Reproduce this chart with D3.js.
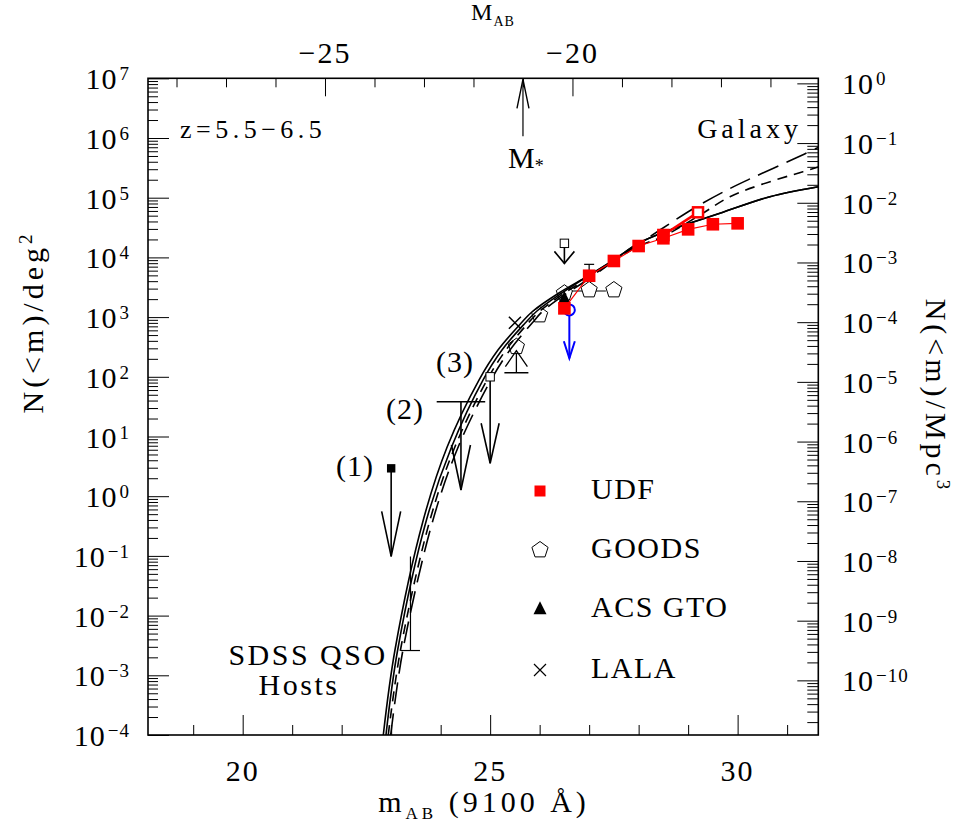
<!DOCTYPE html>
<html><head><meta charset="utf-8">
<script src="https://cdn.jsdelivr.net/npm/d3@7"></script>
<style>
body{margin:0;background:#fff;}
svg text{font-family:"Liberation Serif","Times New Roman",serif;fill:#000;}
</style></head><body>
<svg id="chart" width="956" height="835"></svg>
<script>
// ---------------- data ----------------
const bottomMajor = [20, 25, 30];
const bottomMinor = [19, 21, 22, 23, 24, 26, 27, 28, 29, 31];
const topMajor = [-25, -20];
const topMinor = [-28, -27, -26, -24, -23, -22, -21, -19, -18, -17, -16];
const leftDecades = [-4, -3, -2, -1, 0, 1, 2, 3, 4, 5, 6, 7];
const rightDecades = [-10, -9, -8, -7, -6, -5, -4, -3, -2, -1, 0];
const distModulus = 46.663;      // m - M
const volumeOffset = 6.915;      // log N/deg^2 - log N/Mpc^3
const mStar = -21.0;

// model curves: [m_AB, log10 N(<m)/deg^2]
const curveSolid1 = [[22.841,-4.0],[23.077,-2.576],[23.649,-0.399],[24.133,0.829],[24.774,1.946],[25.158,2.449],[25.622,2.896],[25.865,3.102],[26.390,3.404],[26.976,3.688],[27.501,3.957],[28.006,4.241],[28.632,4.459],[29.643,4.739],[30.653,5.017],[31.628,5.184]];
const curveSolid2 = [[22.895,-4.0],[23.131,-2.576],[23.713,-0.399],[24.222,0.829],[24.855,1.946],[25.239,2.449],[25.703,2.896],[25.946,3.102],[26.431,3.395],[26.976,3.688],[27.501,3.957],[28.006,4.241],[28.632,4.459],[29.643,4.739],[30.653,5.017],[31.628,5.184]];
const curveShortDash = [[22.941,-4.0],[23.188,-2.576],[23.784,-0.399],[24.289,0.829],[24.936,1.946],[25.320,2.449],[25.764,2.896],[26.006,3.102],[26.471,3.387],[27.016,3.672],[27.501,3.940],[28.006,4.191],[28.511,4.358],[29.239,4.710],[29.845,5.017],[30.451,5.213],[31.319,5.436],[31.628,5.514]];
const curveLongDash = [[22.990,-4.0],[23.238,-2.576],[23.845,-0.399],[24.356,0.829],[25.016,1.946],[25.400,2.449],[25.844,2.896],[26.067,3.102],[26.511,3.379],[27.037,3.663],[27.622,4.012],[28.430,4.459],[29.178,4.853],[29.845,5.154],[30.309,5.338],[31.198,5.673],[31.628,5.841]];

// UDF
const udfMag = [26.5, 27.0, 27.5, 28.0, 28.5, 29.0, 29.5, 30.0];
const udfN = [1400, 4930, 8710, 15500, 20900, 29500, 35900, 37200];
const udf2Mag = [28.5, 29.2];
const udf2N = [23700, 56900];
const udfErrMag = [27.0];
const udfErrHigh = [7650];
// GOODS
const goodsMag = [25.53, 26.0, 26.5, 27.0, 27.5];
const goodsN = [319, 1084, 2512, 2844, 2844];
const goodsLowerMag = [25.53];
const goodsLowerN = [117];
// ACS GTO
const acsMag = [26.5];
const acsN = [2065];
// LALA
const lalaMag = [25.5];
const lalaN = [805];
// blue upper limit
const blueMag = [26.6];
const blueN = [1318];
const blueTipN = [204];
// upper limits (1), (2), (3) and the faint one at 26.5
const limitMag = [23.0, 24.41, 25.0, 26.5];
const limitN = [2.93, 38.3, 100, 17200];
const limitTipN = [0.098, 1.27, 3.56, 7940];
const limitLabels = ["(1)", "(2)", "(3)", ""];
const limit2Range = [23.92, 24.9];
// SDSS QSO host bar
const sdssMag = [23.39];
const sdssHigh = [0.0977];
const sdssLow = [0.0026];

const legendItems = ["UDF", "GOODS", "ACS GTO", "LALA"];

// ---------------- scales ----------------
const L = 148, R = 818.3, T = 78.3, B = 735;
const svg = d3.select("#chart");
const x = d3.scaleLinear().domain([18.087, 31.63]).range([L, R]);
const xTop = d3.scaleLinear().domain([18.087 - distModulus, 31.63 - distModulus]).range([L, R]);
const yL = d3.scaleLog().domain([1e-4, 1e7]).range([B, T]);
const yR = d3.scaleLog().domain([Math.pow(10, -4 - volumeOffset), Math.pow(10, 7 - volumeOffset)]).range([B, T]);
const yv = v => yL(v);
const yl = lg => yL(Math.pow(10, lg));

// ---------------- axes ----------------
function cleanAxis(g) { g.select(".domain").remove(); g.selectAll("line").attr("stroke", "#000").attr("stroke-width", 1); }

const leftMajorVals = leftDecades.map(k => Math.pow(10, k));
const leftMinorVals = [];
leftDecades.slice(0, -1).forEach(k => { for (let j = 2; j <= 9; j++) leftMinorVals.push(j * Math.pow(10, k)); });
svg.append("g").attr("transform", `translate(${L},0)`).call(d3.axisRight(yL).tickValues(leftMajorVals).tickSize(21).tickFormat("")).call(cleanAxis);
svg.append("g").attr("transform", `translate(${L},0)`).call(d3.axisRight(yL).tickValues(leftMinorVals).tickSize(10).tickFormat("")).call(cleanAxis);

const rdom = yR.domain();
const rightMajorVals = rightDecades.map(k => Math.pow(10, k));
const rightMinorVals = [];
for (let k = -11; k <= 0; k++) for (let j = 2; j <= 9; j++) { const v = j * Math.pow(10, k); if (v >= rdom[0] && v <= rdom[1]) rightMinorVals.push(v); }
svg.append("g").attr("transform", `translate(${R},0)`).call(d3.axisLeft(yR).tickValues(rightMajorVals).tickSize(21).tickFormat("")).call(cleanAxis);
svg.append("g").attr("transform", `translate(${R},0)`).call(d3.axisLeft(yR).tickValues(rightMinorVals).tickSize(11).tickFormat("")).call(cleanAxis);

svg.append("g").attr("transform", `translate(0,${B})`).call(d3.axisTop(x).tickValues(bottomMajor).tickSize(20).tickFormat("")).call(cleanAxis);
svg.append("g").attr("transform", `translate(0,${B})`).call(d3.axisTop(x).tickValues(bottomMinor).tickSize(10).tickFormat("")).call(cleanAxis);
svg.append("g").attr("transform", `translate(0,${T})`).call(d3.axisBottom(xTop).tickValues(topMajor).tickSize(18).tickFormat("")).call(cleanAxis);
svg.append("g").attr("transform", `translate(0,${T})`).call(d3.axisBottom(xTop).tickValues(topMinor).tickSize(9).tickFormat("")).call(cleanAxis);

svg.append("rect").attr("x", L).attr("y", T).attr("width", R - L).attr("height", B - T)
  .attr("fill", "none").attr("stroke", "#000").attr("stroke-width", 1.6);

// tick labels
function expLabel(sel, k) {
  sel.append("tspan").text("10");
  sel.append("tspan").attr("font-size", 19).attr("dy", -9).attr("dx", 2).text(k < 0 ? "\u2212" + Math.abs(k) : String(k));
}
leftDecades.forEach(k => {
  const t = svg.append("text").attr("x", 130).attr("y", yL(Math.pow(10, k)) + 11)
    .attr("text-anchor", "end").attr("font-size", 30).attr("letter-spacing", 1);
  expLabel(t, k);
});
rightDecades.forEach(k => {
  const t = svg.append("text").attr("x", 842).attr("y", yR(Math.pow(10, k)) + 11)
    .attr("text-anchor", "start").attr("font-size", 30).attr("letter-spacing", 1);
  expLabel(t, k);
});
bottomMajor.forEach(v => {
  svg.append("text").attr("x", x(v)).attr("y", 781).attr("text-anchor", "middle")
    .attr("font-size", 30).attr("letter-spacing", 2).text(String(v));
});
topMajor.forEach(v => {
  svg.append("text").attr("x", xTop(v)).attr("y", 63).attr("text-anchor", "middle")
    .attr("font-size", 30).attr("letter-spacing", 2).text("\u2212" + Math.abs(v));
});

// axis titles
const bt = svg.append("text").attr("x", 484).attr("y", 812).attr("text-anchor", "middle").attr("font-size", 30).attr("letter-spacing", 4);
bt.append("tspan").text("m");
bt.append("tspan").attr("font-size", 17).attr("dy", 7).text("AB");
bt.append("tspan").attr("dy", -7).text(" (9100 \u00C5)");

const tt = svg.append("text").attr("x", 493).attr("y", 20).attr("text-anchor", "middle").attr("font-size", 24).attr("letter-spacing", 1);
tt.append("tspan").text("M");
tt.append("tspan").attr("font-size", 14).attr("dy", 6).text("AB");

const lt = svg.append("text").attr("transform", "translate(43,322) rotate(-90)").attr("text-anchor", "middle").attr("font-size", 30).attr("letter-spacing", 4);
lt.append("tspan").text("N(<m)/deg");
lt.append("tspan").attr("font-size", 19).attr("dy", -11).text("2");

const rt = svg.append("text").attr("transform", "translate(926,396) rotate(90)").attr("text-anchor", "middle").attr("font-size", 30).attr("letter-spacing", 4);
rt.append("tspan").text("N(<m)/Mpc");
rt.append("tspan").attr("font-size", 19).attr("dy", -11).text("3");

// ---------------- plot content ----------------
svg.append("clipPath").attr("id", "clip").append("rect").attr("x", L).attr("y", T).attr("width", R - L).attr("height", B - T);
const plot = svg.append("g").attr("clip-path", "url(#clip)");

function pentagon(cx, cy, r) {
  const pts = d3.range(5).map(i => { const a = -Math.PI / 2 + i * 2 * Math.PI / 5; return [cx + r * Math.cos(a), cy + r * Math.sin(a)]; });
  return "M" + pts.map(p => p.join(",")).join("L") + "Z";
}
// GOODS horizontal connector for the last three
plot.append("line").attr("x1", x(goodsMag[2])).attr("x2", x(goodsMag[4]) - 8)
  .attr("y1", yv(goodsN[3]) + 1).attr("y2", yv(goodsN[3]) + 1).attr("stroke", "#000").attr("stroke-width", 1);
goodsMag.forEach((m, i) => {
  plot.append("path").attr("d", pentagon(x(m), yv(goodsN[i]), 8.5)).attr("fill", "#fff").attr("stroke", "#000").attr("stroke-width", 1);
});
// GOODS lower limit
goodsLowerMag.forEach((m, i) => {
  const cx = x(m), yb = yv(goodsLowerN[i]), yt = yv(goodsN[0]);
  plot.append("line").attr("x1", cx).attr("x2", cx).attr("y1", yb).attr("y2", yt + 6).attr("stroke", "#000").attr("stroke-width", 1.3);
  plot.append("line").attr("x1", cx - 12).attr("x2", cx + 12).attr("y1", yb).attr("y2", yb).attr("stroke", "#000").attr("stroke-width", 1.5);
  plot.append("path").attr("d", `M${cx - 11},${yb - 6}L${cx},${yt + 4}L${cx + 11},${yb - 6}`).attr("fill", "none").attr("stroke", "#000").attr("stroke-width", 1.3);
});

// model curves
const line = d3.line().x(d => x(d[0])).y(d => yl(d[1])).curve(d3.curveCatmullRom.alpha(0.5));
[[curveSolid1, null], [curveSolid2, null], [curveShortDash, "10,7"], [curveLongDash, "22,9"]].forEach(([c, dash]) => {
  plot.append("path").attr("d", line(c)).attr("fill", "none").attr("stroke", "#000").attr("stroke-width", 1.6)
    .attr("stroke-dasharray", dash);
});

// LALA cross
function cross(g, cx, cy, h, w) {
  g.append("path").attr("d", `M${cx - h},${cy - h}L${cx + h},${cy + h}M${cx - h},${cy + h}L${cx + h},${cy - h}`)
    .attr("stroke", "#000").attr("stroke-width", w).attr("fill", "none");
}
lalaMag.forEach((m, i) => cross(plot, x(m), yv(lalaN[i]), 6, 1.5));

// ACS GTO triangle
function triangle(g, cx, cy, s) {
  g.append("path").attr("d", `M${cx},${cy - s * 0.6}L${cx + s / 2},${cy + s * 0.4}L${cx - s / 2},${cy + s * 0.4}Z`).attr("fill", "#000");
}
acsMag.forEach((m, i) => triangle(plot, x(m), yv(acsN[i]), 12));

// upper limits
function downArrow(g, cx, y0, yTip, len, half, color, w) {
  g.append("line").attr("x1", cx).attr("x2", cx).attr("y1", y0).attr("y2", yTip).attr("stroke", color).attr("stroke-width", w);
  g.append("path").attr("d", `M${cx - half},${yTip - len}L${cx},${yTip}L${cx + half},${yTip - len}`)
    .attr("fill", "none").attr("stroke", color).attr("stroke-width", w);
}
const arrowLen = [45, 45, 40, 12];
const arrowHalf = [9.5, 9.5, 9, 10];
limitMag.forEach((m, i) => {
  const cx = x(m), cy = yv(limitN[i]), tip = yv(limitTipN[i]);
  downArrow(plot, cx, cy, tip, arrowLen[i], arrowHalf[i], "#000", 1.6);
  if (i === 0) plot.append("rect").attr("x", cx - 4.2).attr("y", cy - 4.2).attr("width", 8.4).attr("height", 8.4).attr("fill", "#000");
  if (i === 2 || i === 3) plot.append("rect").attr("x", cx - 4.2).attr("y", cy - 4.2).attr("width", 8.4).attr("height", 8.4).attr("fill", "#fff").attr("stroke", "#000").attr("stroke-width", 1);
  if (i === 1) plot.append("line").attr("x1", x(limit2Range[0])).attr("x2", x(limit2Range[1])).attr("y1", cy).attr("y2", cy).attr("stroke", "#000").attr("stroke-width", 1.6);
});
const limitLabelPos = [[355, 476], [405, 419], [455, 372]];
limitLabelPos.forEach((p, i) => {
  svg.append("text").attr("x", p[0]).attr("y", p[1]).attr("text-anchor", "middle").attr("font-size", 30).attr("letter-spacing", 1).text(limitLabels[i]);
});

// SDSS QSO host bar
sdssMag.forEach((m, i) => {
  const cx = x(m);
  plot.append("line").attr("x1", cx).attr("x2", cx).attr("y1", yv(sdssHigh[i])).attr("y2", yv(sdssLow[i])).attr("stroke", "#000").attr("stroke-width", 1.2);
  plot.append("line").attr("x1", cx - 9.5).attr("x2", cx + 9.5).attr("y1", yv(sdssLow[i])).attr("y2", yv(sdssLow[i])).attr("stroke", "#000").attr("stroke-width", 1.2);
});

// blue upper limit
blueMag.forEach((m, i) => {
  const cx = x(m), cy = yv(blueN[i]);
  downArrow(plot, cx, cy + 5.5, yv(blueTipN[i]), 17, 5.5, "#0000ff", 2);
  plot.append("circle").attr("cx", cx).attr("cy", cy).attr("r", 5.5).attr("fill", "none").attr("stroke", "#0000ff").attr("stroke-width", 2);
});

// UDF
const redLine = d3.line().x(d => x(d[0])).y(d => yv(d[1]));
plot.append("path").attr("d", redLine(udfMag.map((m, i) => [m, udfN[i]]))).attr("fill", "none").attr("stroke", "#ff0000").attr("stroke-width", 1.2);
plot.append("path").attr("d", redLine(udf2Mag.map((m, i) => [m, udf2N[i]]))).attr("fill", "none").attr("stroke", "#ff0000").attr("stroke-width", 2.6);
udfErrMag.forEach((m, i) => {
  const cx = x(m);
  plot.append("line").attr("x1", cx).attr("x2", cx).attr("y1", yv(udfN[1])).attr("y2", yv(udfErrHigh[i])).attr("stroke", "#000").attr("stroke-width", 1.2);
  plot.append("line").attr("x1", cx - 5).attr("x2", cx + 5).attr("y1", yv(udfErrHigh[i])).attr("y2", yv(udfErrHigh[i])).attr("stroke", "#000").attr("stroke-width", 1.2);
});
udfMag.forEach((m, i) => {
  plot.append("rect").attr("x", x(m) - 6.3).attr("y", yv(udfN[i]) - 6.3).attr("width", 12.6).attr("height", 12.6).attr("fill", "#ff0000");
});
plot.append("rect").attr("x", x(udf2Mag[0]) - 6.3).attr("y", yv(udf2N[0]) - 6.3).attr("width", 12.6).attr("height", 12.6).attr("fill", "#ff0000");
plot.append("rect").attr("x", x(udf2Mag[1]) - 5).attr("y", yv(udf2N[1]) - 5).attr("width", 10).attr("height", 10).attr("fill", "#fff").attr("stroke", "#ff0000").attr("stroke-width", 2.5);

// M* arrow
{
  const cx = xTop(mStar);
  svg.append("line").attr("x1", cx).attr("x2", cx).attr("y1", T).attr("y2", T + 58).attr("stroke", "#000").attr("stroke-width", 1.2);
  svg.append("path").attr("d", `M${cx - 6},${T + 30}L${cx},${T + 1}L${cx + 6},${T + 30}`).attr("fill", "none").attr("stroke", "#000").attr("stroke-width", 1.4);
  const ms = svg.append("text").attr("x", cx - 15).attr("y", 168).attr("font-size", 30);
  ms.append("tspan").text("M");
  ms.append("tspan").attr("font-size", 18).attr("dy", 4).text("*");
}

// annotations
svg.append("text").attr("x", 180).attr("y", 138).attr("font-size", 26).attr("letter-spacing", 4.5).text("z=5.5\u22126.5");
svg.append("text").attr("x", 802).attr("y", 138).attr("text-anchor", "end").attr("font-size", 28).attr("letter-spacing", 4).text("Galaxy");
svg.append("text").attr("x", 308).attr("y", 665).attr("text-anchor", "middle").attr("font-size", 30).attr("letter-spacing", 2.5).text("SDSS QSO");
svg.append("text").attr("x", 299).attr("y", 695).attr("text-anchor", "middle").attr("font-size", 30).attr("letter-spacing", 2.5).text("Hosts");

// legend
const legY = [491, 550, 609, 670];
const legX = 540;
legendItems.forEach((name, i) => {
  const cy = legY[i];
  if (i === 0) svg.append("rect").attr("x", legX - 5.5).attr("y", cy - 5.5).attr("width", 11).attr("height", 11).attr("fill", "#ff0000");
  if (i === 1) svg.append("path").attr("d", pentagon(legX, cy, 8.5)).attr("fill", "#fff").attr("stroke", "#000").attr("stroke-width", 1);
  if (i === 2) triangle(svg, legX, cy, 13);
  if (i === 3) cross(svg, legX, cy, 6, 1.2);
  svg.append("text").attr("x", 591).attr("y", cy + 8).attr("font-size", 30).attr("letter-spacing", 1.5).text(name);
});
</script>
</body></html>
